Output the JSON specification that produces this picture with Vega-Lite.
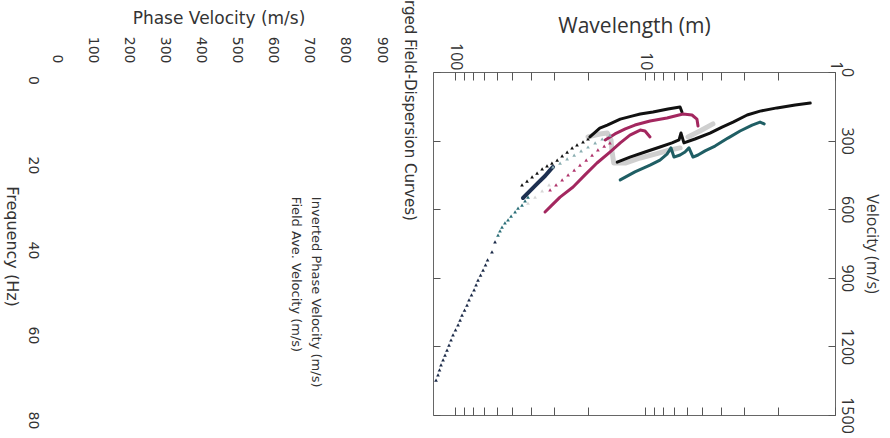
{
  "$schema": "https://vega.github.io/schema/vega-lite/v6.json",
  "background": "white",
  "padding": {"left": 3, "top": 0, "right": 0, "bottom": 0},
  "bounds": "flush",
  "spacing": 52,
  "config": {"view": {"stroke": "#666666", "strokeWidth": 1}, "axis": {"grid": false}},
  "datasets": {
    "curves": [
      {"s":"black1","w":19.5,"v":284,"o":1},{"s":"black1","w":17.3,"v":245,"o":2},{"s":"black1","w":15.8,"v":232,"o":3},{"s":"black1","w":13.5,"v":206,"o":4},{"s":"black1","w":11.6,"v":192,"o":5},{"s":"black1","w":10.6,"v":184,"o":6},{"s":"black1","w":9.08,"v":175,"o":7},{"s":"black1","w":7.57,"v":162,"o":8},{"s":"black1","w":6.54,"v":153,"o":9},{"s":"black1","w":6.39,"v":175,"o":10},
      {"s":"black2","w":14.0,"v":394,"o":1},{"s":"black2","w":12.0,"v":372,"o":2},{"s":"black2","w":10.0,"v":350,"o":3},{"s":"black2","w":8.34,"v":328,"o":4},{"s":"black2","w":7.21,"v":310,"o":5},{"s":"black2","w":6.62,"v":297,"o":6},{"s":"black2","w":6.47,"v":267,"o":7},{"s":"black2","w":6.24,"v":310,"o":8},{"s":"black2","w":5.46,"v":293,"o":9},{"s":"black2","w":4.55,"v":267,"o":10},{"s":"black2","w":3.93,"v":241,"o":11},{"s":"black2","w":3.44,"v":219,"o":12},{"s":"black2","w":2.90,"v":188,"o":13},{"s":"black2","w":2.48,"v":171,"o":14},{"s":"black2","w":2.02,"v":157,"o":15},{"s":"black2","w":1.62,"v":144,"o":16},{"s":"black2","w":1.35,"v":136,"o":17},
      {"s":"mag1","w":33.6,"v":612,"o":1},{"s":"mag1","w":30.9,"v":582,"o":2},{"s":"mag1","w":28.0,"v":547,"o":3},{"s":"mag1","w":23.9,"v":503,"o":4},{"s":"mag1","w":20.7,"v":450,"o":5},{"s":"mag1","w":17.9,"v":398,"o":6},{"s":"mag1","w":15.3,"v":350,"o":7},{"s":"mag1","w":13.5,"v":310,"o":8},{"s":"mag1","w":12.0,"v":276,"o":9},{"s":"mag1","w":10.6,"v":254,"o":10},{"s":"mag1","w":10.0,"v":258,"o":11},{"s":"mag1","w":9.41,"v":284,"o":12},
      {"s":"mag2","w":16.2,"v":297,"o":1},{"s":"mag2","w":14.4,"v":271,"o":2},{"s":"mag2","w":12.7,"v":249,"o":3},{"s":"mag2","w":11.3,"v":232,"o":4},{"s":"mag2","w":9.41,"v":214,"o":5},{"s":"mag2","w":7.66,"v":201,"o":6},{"s":"mag2","w":6.31,"v":184,"o":7},{"s":"mag2","w":5.66,"v":188,"o":8},{"s":"mag2","w":5.33,"v":206,"o":9},{"s":"mag2","w":5.26,"v":236,"o":10},
      {"s":"teal","w":13.5,"v":472,"o":1},{"s":"teal","w":11.3,"v":437,"o":2},{"s":"teal","w":9.41,"v":407,"o":3},{"s":"teal","w":8.34,"v":385,"o":4},{"s":"teal","w":7.66,"v":359,"o":5},{"s":"teal","w":7.30,"v":332,"o":6},{"s":"teal","w":7.04,"v":372,"o":7},{"s":"teal","w":6.54,"v":363,"o":8},{"s":"teal","w":6.16,"v":350,"o":9},{"s":"teal","w":5.87,"v":332,"o":10},{"s":"teal","w":5.59,"v":372,"o":11},{"s":"teal","w":5.26,"v":363,"o":12},{"s":"teal","w":4.83,"v":345,"o":13},{"s":"teal","w":4.28,"v":324,"o":14},{"s":"teal","w":3.66,"v":289,"o":15},{"s":"teal","w":3.16,"v":258,"o":16},{"s":"teal","w":2.73,"v":232,"o":17},{"s":"teal","w":2.48,"v":219,"o":18},{"s":"teal","w":2.36,"v":227,"o":19},
      {"s":"gray1","w":19.95,"v":284,"o":1},{"s":"gray1","w":17.3,"v":271,"o":2},{"s":"gray1","w":15.8,"v":267,"o":3},{"s":"gray1","w":15.1,"v":297,"o":4},{"s":"gray1","w":14.9,"v":350,"o":5},{"s":"gray1","w":14.6,"v":398,"o":6},{"s":"gray1","w":12.7,"v":398,"o":7},{"s":"gray1","w":10.6,"v":376,"o":8},{"s":"gray1","w":8.86,"v":359,"o":9},{"s":"gray1","w":7.39,"v":341,"o":10},{"s":"gray1","w":6.54,"v":332,"o":11},
      {"s":"gray2","w":5.94,"v":284,"o":1},{"s":"gray2","w":5.14,"v":258,"o":2},{"s":"gray2","w":4.39,"v":227,"o":3},
      {"s":"navyline","w":43.9,"v":551,"o":1},{"s":"navyline","w":40.3,"v":520,"o":2},{"s":"navyline","w":36.6,"v":485,"o":3},{"s":"navyline","w":33.6,"v":455,"o":4},{"s":"navyline","w":31.6,"v":429,"o":5},{"s":"navyline","w":30.5,"v":415,"o":6},
      {"s":"blackpts","w":44.4,"v":494,"o":1},{"s":"blackpts","w":41.8,"v":477,"o":2},{"s":"blackpts","w":39.3,"v":459,"o":3},{"s":"blackpts","w":37.0,"v":442,"o":4},{"s":"blackpts","w":34.8,"v":424,"o":5},{"s":"blackpts","w":32.8,"v":411,"o":6},{"s":"blackpts","w":30.9,"v":398,"o":7},{"s":"blackpts","w":29.0,"v":385,"o":8},{"s":"blackpts","w":27.3,"v":367,"o":9},{"s":"blackpts","w":25.7,"v":350,"o":10},{"s":"blackpts","w":24.2,"v":332,"o":11},{"s":"blackpts","w":22.8,"v":319,"o":12},{"s":"blackpts","w":21.2,"v":306,"o":13},{"s":"blackpts","w":19.95,"v":293,"o":14},
      {"s":"magpts","w":31.6,"v":516,"o":1},{"s":"magpts","w":29.4,"v":494,"o":2},{"s":"magpts","w":27.3,"v":472,"o":3},{"s":"magpts","w":25.4,"v":450,"o":4},{"s":"magpts","w":23.6,"v":429,"o":5},{"s":"magpts","w":22.0,"v":407,"o":6},{"s":"magpts","w":20.4,"v":385,"o":7},{"s":"magpts","w":19.0,"v":363,"o":8},{"s":"magpts","w":17.7,"v":341,"o":9},{"s":"magpts","w":16.4,"v":324,"o":10},{"s":"magpts","w":15.3,"v":310,"o":11},
      {"s":"tealgraypts","w":30.5,"v":415,"o":1},{"s":"tealgraypts","w":28.0,"v":398,"o":2},{"s":"tealgraypts","w":25.7,"v":380,"o":3},{"s":"tealgraypts","w":23.6,"v":363,"o":4},{"s":"tealgraypts","w":21.7,"v":345,"o":5},{"s":"tealgraypts","w":19.95,"v":328,"o":6},{"s":"tealgraypts","w":18.3,"v":310,"o":7},{"s":"tealgraypts","w":16.8,"v":293,"o":8},{"s":"tealgraypts","w":15.3,"v":276,"o":9},
      {"s":"lgraypts","w":41.3,"v":573,"o":1},{"s":"lgraypts","w":37.9,"v":547,"o":2},{"s":"lgraypts","w":34.8,"v":520,"o":3},{"s":"lgraypts","w":32.0,"v":494,"o":4},
      {"s":"navypts","w":125.9,"v":1347,"o":1},{"s":"navypts","w":122.9,"v":1325,"o":2},{"s":"navypts","w":120.7,"v":1303,"o":3},{"s":"navypts","w":118.5,"v":1281,"o":4},{"s":"navypts","w":115.6,"v":1259,"o":5},{"s":"navypts","w":112.9,"v":1238,"o":6},{"s":"navypts","w":110.2,"v":1216,"o":7},{"s":"navypts","w":107.6,"v":1194,"o":8},{"s":"navypts","w":105.0,"v":1172,"o":9},{"s":"navypts","w":102.5,"v":1150,"o":10},{"s":"navypts","w":99.4,"v":1128,"o":11},{"s":"navypts","w":96.4,"v":1106,"o":12},{"s":"navypts","w":94.1,"v":1085,"o":13},{"s":"navypts","w":91.9,"v":1063,"o":14},{"s":"navypts","w":89.1,"v":1041,"o":15},{"s":"navypts","w":86.5,"v":1019,"o":16},{"s":"navypts","w":84.4,"v":997,"o":17},{"s":"navypts","w":81.9,"v":975,"o":18},{"s":"navypts","w":79.4,"v":953,"o":19},{"s":"navypts","w":77.5,"v":931,"o":20},{"s":"navypts","w":75.7,"v":910,"o":21},{"s":"navypts","w":73.4,"v":888,"o":22},{"s":"navypts","w":71.2,"v":866,"o":23},{"s":"navypts","w":69.1,"v":844,"o":24},{"s":"navypts","w":67.4,"v":822,"o":25},{"s":"navypts","w":63.9,"v":787,"o":26},{"s":"navypts","w":61.6,"v":743,"o":27},
      {"s":"tealpts","w":59.4,"v":713,"o":1},{"s":"tealpts","w":58.0,"v":695,"o":2},{"s":"tealpts","w":56.6,"v":678,"o":3},{"s":"tealpts","w":54.6,"v":660,"o":4},{"s":"tealpts","w":52.6,"v":647,"o":5},{"s":"tealpts","w":50.7,"v":630,"o":6},{"s":"tealpts","w":48.3,"v":612,"o":7},{"s":"tealpts","w":46.6,"v":595,"o":8},{"s":"tealpts","w":44.4,"v":582,"o":9},{"s":"tealpts","w":42.8,"v":564,"o":10},{"s":"tealpts","w":41.3,"v":547,"o":11}
    ]
  },
  "hconcat": [
    {
      "width": 325,
      "height": 348,
      "view": {"stroke": null},
      "data": {"values": [
        {"t": "Inverted Phase Velocity (m/s)", "pv": 720, "f": 27.5, "k": "legend"},
        {"t": "Field Ave. Velocity (m/s)", "pv": 665, "f": 27.5, "k": "legend"},
        {"t": "rged Field-Dispersion Curves)", "pv": 980, "f": -18.8, "k": "title"}
      ]},
      "encoding": {
        "x": {"field": "pv", "type": "quantitative",
          "scale": {"domain": [0, 900], "nice": false, "zero": false},
          "axis": {"orient": "top", "values": [0,100,200,300,400,500,600,700,800,900], "labelAngle": 90, "labelFlush": false, "labelOverlap": false, "ticks": false, "domain": false, "grid": false, "labelPadding": 9, "labelFont": "DejaVu Sans", "labelFontSize": 14, "labelColor": "#333333", "title": "Phase Velocity (m/s)", "titleFont": "DejaVu Sans", "titleFontSize": 17, "titleFontWeight": "normal", "titleColor": "#333333", "titlePadding": 9}},
        "y": {"field": "f", "type": "quantitative",
          "scale": {"domain": [-1.88, 80], "nice": false, "zero": false, "reverse": true},
          "axis": {"orient": "left", "values": [0,20,40,60,80], "labelAngle": 90, "labelFlush": false, "labelOverlap": false, "ticks": false, "domain": false, "grid": false, "labelPadding": 17, "labelFont": "DejaVu Sans", "labelFontSize": 14, "labelColor": "#333333", "title": "Frequency (Hz)", "titleAngle": 90, "titleFont": "DejaVu Sans", "titleFontSize": 16, "titleFontWeight": "normal", "titleColor": "#333333", "titlePadding": 22}},
        "text": {"field": "t", "type": "nominal"}
      },
      "layer": [
        {"transform": [{"filter": "datum.k == 'legend'"}],
         "mark": {"type": "text", "angle": 90, "align": "left", "baseline": "middle", "font": "DejaVu Sans", "fontSize": 13, "color": "#333333"}},
        {"transform": [{"filter": "datum.k == 'title'"}],
         "mark": {"type": "text", "angle": 90, "align": "left", "baseline": "middle", "font": "DejaVu Sans", "fontSize": 15, "color": "#333333"}}
      ]
    },
    {
      "width": 402,
      "height": 343,
      "data": {"name": "curves"},
      "layer": [
        {"transform": [{"filter": {"field": "s", "oneOf": ["gray1", "gray2"]}}],
         "mark": {"type": "line", "strokeWidth": 5, "strokeCap": "round", "strokeJoin": "round"},
         "encoding": {
           "x": {"field": "w", "type": "quantitative", "scale": {"type": "log", "domain": [1, 130.6], "reverse": true, "nice": false},
             "axis": {"orient": "top", "values": [1,2,3,4,5,6,7,8,9,10,20,30,40,50,60,70,80,90,100], "labelExpr": "datum.value == 1 || datum.value == 10 || datum.value == 100 ? '' + datum.value : ''", "labelAngle": 90, "labelFlush": false, "labelOverlap": false, "tickSize": -8, "tickColor": "#555555", "labelPadding": 10, "domain": false, "grid": false, "labelFont": "Open Sans", "labelFontSize": 16, "labelColor": "#333333", "title": "Wavelength (m)", "titleFont": "Open Sans", "titleFontSize": 21, "titleFontWeight": "normal", "titleColor": "#333333", "titlePadding": 6}},
           "y": {"field": "v", "type": "quantitative", "scale": {"domain": [0, 1500], "nice": false, "zero": false, "reverse": true},
             "axis": {"orient": "right", "values": [0,300,600,900,1200,1500], "format": "d", "labelAngle": 90, "labelFlush": false, "labelOverlap": false, "tickSize": -7, "tickColor": "#555555", "labelPadding": 10, "domain": false, "grid": false, "labelFont": "Open Sans", "labelFontSize": 16, "labelColor": "#333333", "title": "Velocity (m/s)", "titleFont": "Open Sans", "titleFontSize": 16, "titleFontWeight": "normal", "titleColor": "#333333", "titlePadding": 9}},
           "color": {"field": "s", "type": "nominal", "legend": null,
             "scale": {"domain": ["black1","black2","mag1","mag2","teal","gray1","gray2","navyline","blackpts","magpts","tealgraypts","lgraypts","navypts","tealpts"],
                       "range": ["#111111","#111111","#a3275f","#a3275f","#1f5e64","#cfcfcf","#cfcfcf","#1d2f50","#111111","#b0346c","#8aaeb1","#d6d6d6","#1b2a48","#2b6f78"]}},
           "order": {"field": "o", "type": "quantitative"}
         }},
        {"transform": [{"filter": {"field": "s", "oneOf": ["black1", "black2", "mag1", "mag2", "teal"]}}],
         "mark": {"type": "line", "strokeWidth": 3, "strokeCap": "round", "strokeJoin": "round"},
         "encoding": {
           "x": {"field": "w", "type": "quantitative", "scale": {"type": "log", "domain": [1, 130.6], "reverse": true, "nice": false}, "axis": null},
           "y": {"field": "v", "type": "quantitative", "scale": {"domain": [0, 1500], "nice": false, "zero": false, "reverse": true}, "axis": null},
           "color": {"field": "s", "type": "nominal", "legend": null,
             "scale": {"domain": ["black1","black2","mag1","mag2","teal","gray1","gray2","navyline","blackpts","magpts","tealgraypts","lgraypts","navypts","tealpts"],
                       "range": ["#111111","#111111","#a3275f","#a3275f","#1f5e64","#cfcfcf","#cfcfcf","#1d2f50","#111111","#b0346c","#8aaeb1","#d6d6d6","#1b2a48","#2b6f78"]}},
           "order": {"field": "o", "type": "quantitative"}
         }},
        {"transform": [{"filter": {"field": "s", "equal": "navyline"}}],
         "mark": {"type": "line", "strokeWidth": 4, "strokeCap": "round", "strokeJoin": "round"},
         "encoding": {
           "x": {"field": "w", "type": "quantitative", "scale": {"type": "log", "domain": [1, 130.6], "reverse": true, "nice": false}, "axis": null},
           "y": {"field": "v", "type": "quantitative", "scale": {"domain": [0, 1500], "nice": false, "zero": false, "reverse": true}, "axis": null},
           "color": {"field": "s", "type": "nominal", "legend": null,
             "scale": {"domain": ["black1","black2","mag1","mag2","teal","gray1","gray2","navyline","blackpts","magpts","tealgraypts","lgraypts","navypts","tealpts"],
                       "range": ["#111111","#111111","#a3275f","#a3275f","#1f5e64","#cfcfcf","#cfcfcf","#1d2f50","#111111","#b0346c","#8aaeb1","#d6d6d6","#1b2a48","#2b6f78"]}},
           "order": {"field": "o", "type": "quantitative"}
         }},
        {"transform": [{"filter": {"field": "s", "oneOf": ["blackpts", "magpts", "tealgraypts", "lgraypts", "navypts", "tealpts"]}}],
         "mark": {"type": "point", "shape": "triangle-up", "filled": true, "size": 14, "opacity": 1},
         "encoding": {
           "x": {"field": "w", "type": "quantitative", "scale": {"type": "log", "domain": [1, 130.6], "reverse": true, "nice": false},
             "axis": {"orient": "bottom", "values": [1,2,3,4,5,6,7,8,9,10,20,30,40,50,60,70,80,90,100], "labels": false, "tickSize": -8, "tickColor": "#555555", "domain": false, "grid": false, "title": null}},
           "y": {"field": "v", "type": "quantitative", "scale": {"domain": [0, 1500], "nice": false, "zero": false, "reverse": true},
             "axis": {"orient": "left", "values": [0,300,600,900,1200,1500], "labels": false, "tickSize": -7, "tickColor": "#555555", "domain": false, "grid": false, "title": null}},
           "color": {"field": "s", "type": "nominal", "legend": null,
             "scale": {"domain": ["black1","black2","mag1","mag2","teal","gray1","gray2","navyline","blackpts","magpts","tealgraypts","lgraypts","navypts","tealpts"],
                       "range": ["#111111","#111111","#a3275f","#a3275f","#1f5e64","#cfcfcf","#cfcfcf","#1d2f50","#111111","#b0346c","#8aaeb1","#d6d6d6","#1b2a48","#2b6f78"]}}
         }}
      ],
      "resolve": {"axis": {"x": "independent", "y": "independent"}}
    }
  ]
}
